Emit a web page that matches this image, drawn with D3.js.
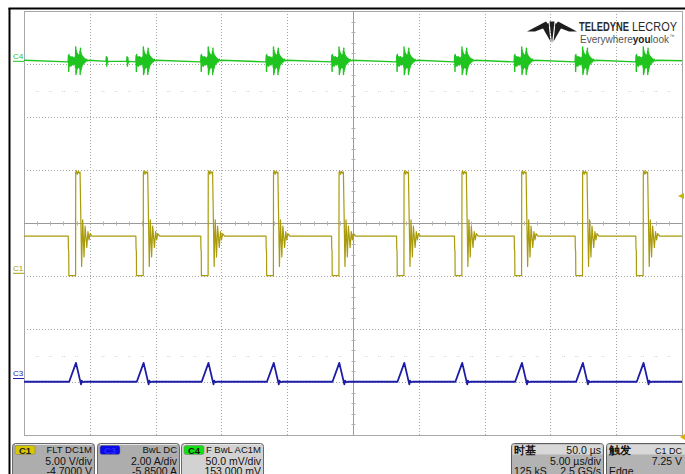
<!DOCTYPE html>
<html><head><meta charset="utf-8">
<script src="https://cdn.jsdelivr.net/npm/d3@7"></script>
<style>
html,body{margin:0;padding:0;background:#fff;}
svg{display:block;}
text{font-family:"Liberation Sans",Arial,sans-serif;}
</style></head><body>
<svg id="scope" width="685" height="474"></svg>
<script>
// Screen: 10 horizontal divisions of 5 µs, 8 vertical divisions
const timeDomain = [0, 50];
const divDomain = [-4, 4];
const timeGrid = [0, 5, 10, 15, 20, 25, 30, 35, 40, 45, 50];
const divGrid = [-4, -3, -2, -1, 0, 1, 2, 3, 4];

// Channel setup (scale per division and offset, in channel units)
const channelNames = ["C1", "C3", "C4"];
const unitsPerDiv = [5, 2, 50];      // V/div, A/div, mV/div
const channelOffset = [-4.7, -5.85, 153];
const traceColors = ["#a99b0c", "#1c1ca6", "#1fc41f"];

// Switching events: time of each C1 rising edge (µs)
const eventTimes = [3.93, 9.07, 14.00, 18.96, 23.94, 28.88, 33.28, 37.82, 42.45, 47.06];

// C1 (V): level between pulses, and the pulse around each event [dt µs, V]
const c1Base = 3.47;
const c1Pulse = [[-0.57,3.47],[-0.555,2.3],[-0.53,2.0],[-0.52,-0.27],[-0.01,-0.27],[0,9.45],
  [0.05,9.63],[0.12,9.3],[0.2,9.55],[0.28,9.4],[0.33,9.5],[0.45,0.6],[0.53,5.0],[0.63,1.5],
  [0.71,4.4],[0.84,2.4],[0.93,3.9],[1.01,3.1],[1.09,3.7],[1.24,3.47]];

// C3 (A): level between pulses, and the current pulse [dt µs, A]
const c3Base = -0.14;
const c3Pulse = [[-0.5,-0.14],[0.02,0.57],[0.4,-0.24],[0.46,-0.1],[0.55,-0.16],[0.65,-0.14]];

// C4 (mV): ringing burst around each event [dt µs, mV]
const c4Start = 0.5, c4End = 0;
const c4Burst = [[-0.62,-1],[-0.57,-0.5],[-0.55,5],[-0.53,-10],[-0.51,6],[-0.49,-5],[-0.46,4],
  [-0.43,-4],[-0.40,4],[-0.37,-5],[-0.34,3],[-0.31,-4],[-0.28,4],[-0.25,-3],[-0.22,3],[-0.19,-4],
  [-0.16,3],[-0.13,-3],[-0.10,2],[-0.07,-3],[-0.04,4],[-0.02,-6],[0.00,13],[0.02,-13],[0.04,10],
  [0.06,-11],[0.08,8],[0.10,-8],[0.12,7],[0.14,-7],[0.16,6],[0.18,-6],[0.20,5],[0.22,-6],
  [0.24,5],[0.26,-5],[0.28,6],[0.30,-7],[0.32,9],[0.34,-13],[0.36,12],[0.38,-10],[0.40,8],
  [0.42,-8],[0.44,6],[0.46,-6],[0.48,5],[0.51,-4],[0.54,4],[0.57,-3],[0.61,3],[0.65,-2],
  [0.70,2],[0.76,-1],[0.83,1.5],[0.90,0],[1.0,0.5]];
// small disturbances between events
const c4BlipTimes = [6.23, 7.80];
const c4Blip = [[0,-0.5],[0.03,4],[0.06,-5],[0.09,3],[0.12,-2],[0.16,-0.5]];

// Info panel texts
const chanRow1 = ["FLT DC1M", "BwL DC", "F  BwL AC1M"];
const chanRow2 = ["5.00 V/div", "2.00 A/div", "50.0 mV/div"];
const chanRow3 = ["-4.7000 V", "-5.8500 A", "153.000 mV"];
const badgeColors = ["#d6c800", "#0a0ae6", "#12e012"];
const badgeText = ["#222", "#2a2aff", "#111"];
const panelFill = ["#adadad", "#adadad", "#d2d2d2"];
const triggerLevel = 7.25;

const svg = d3.select("#scope");
const x = d3.scaleLinear().domain(timeDomain).range([24, 682]);
const yDiv = d3.scaleLinear().domain(divDomain).range([435, 11]);
const yCh = i => v => yDiv((v + channelOffset[i]) / unitsPerDiv[i]);

// outer frame
svg.append("rect").attr("x", 0).attr("y", 0).attr("width", 685).attr("height", 474).attr("fill", "#fff");
svg.append("line").attr("x1", 9.5).attr("x2", 9.5).attr("y1", 8).attr("y2", 474).attr("stroke", "#000").attr("stroke-width", 2);
svg.append("line").attr("x1", 8.5).attr("x2", 685).attr("y1", 8.5).attr("y2", 8.5).attr("stroke", "#000").attr("stroke-width", 2);

// graticule
const grid = svg.append("g");
grid.selectAll(".vg").data(timeGrid.slice(1, -1)).join("line")
  .attr("x1", d => Math.round(x(d)) + 0.5).attr("x2", d => Math.round(x(d)) + 0.5)
  .attr("y1", yDiv(4)).attr("y2", yDiv(-4))
  .attr("stroke", "#a4a4a4").attr("stroke-dasharray", "1,2");
grid.selectAll(".hg").data(divGrid.slice(1, -1)).join("line")
  .attr("y1", d => Math.round(yDiv(d)) + 0.5).attr("y2", d => Math.round(yDiv(d)) + 0.5)
  .attr("x1", x(0)).attr("x2", x(50))
  .attr("stroke", "#a4a4a4").attr("stroke-dasharray", "1,2");
grid.append("rect").attr("x", Math.round(x(0)) + 0.5).attr("y", Math.round(yDiv(4)) + 0.5)
  .attr("width", Math.round(x(50) - x(0))).attr("height", Math.round(yDiv(-4) - yDiv(4)))
  .attr("fill", "none").attr("stroke", "#a8a8a8");
// centre axes with minor ticks
const cx = Math.round(x(25)) + 0.5, cy = Math.round(yDiv(0)) + 0.5;
grid.append("line").attr("x1", x(0)).attr("x2", x(50)).attr("y1", cy).attr("y2", cy).attr("stroke", "#9a9a9a");
grid.append("line").attr("x1", cx).attr("x2", cx).attr("y1", yDiv(4)).attr("y2", yDiv(-4)).attr("stroke", "#9a9a9a");
const minorT = d3.range(1, 50).filter(t => t % 5 !== 0);
const minorD = d3.range(-19, 20).map(d => d / 5).filter(d => Math.abs(d * 5) % 5 !== 0);
grid.selectAll(".tx").data(minorT).join("line")
  .attr("x1", d => Math.round(x(d)) + 0.5).attr("x2", d => Math.round(x(d)) + 0.5)
  .attr("y1", cy - 2).attr("y2", cy + 2).attr("stroke", "#b4b4b4");
grid.selectAll(".ty").data(minorD).join("line")
  .attr("y1", d => Math.round(yDiv(d)) + 0.5).attr("y2", d => Math.round(yDiv(d)) + 0.5)
  .attr("x1", cx - 2).attr("x2", cx + 2).attr("stroke", "#b4b4b4");
// faint sub-division marks on two rows
[2.5, -2.5].forEach(row => {
  grid.selectAll(null).data(minorT).join("line")
    .attr("x1", d => x(d) - 1.5).attr("x2", d => x(d) + 1.5)
    .attr("y1", Math.round(yDiv(row)) + 0.5).attr("y2", Math.round(yDiv(row)) + 0.5)
    .attr("stroke", "#d2d2d2").attr("stroke-dasharray", "1,1");
});

// build traces
function buildTrace(pulse, startVal, endVal, extra) {
  let pts = [[timeDomain[0], startVal]];
  eventTimes.forEach(t => pulse.forEach(p => pts.push([t + p[0], p[1]])));
  if (extra) extra.times.forEach(t => extra.shape.forEach(p => pts.push([t + p[0], p[1]])));
  pts.push([timeDomain[1], endVal]);
  return pts.sort((a, b) => a[0] - b[0]);
}
const traces = [
  buildTrace(c1Pulse, c1Base, c1Base),
  buildTrace(c3Pulse, c3Base, c3Base),
  buildTrace(c4Burst, c4Start, c4End, {times: c4BlipTimes, shape: c4Blip})
];
svg.append("clipPath").attr("id", "plotClip").append("rect")
  .attr("x", x(0)).attr("y", yDiv(4)).attr("width", x(50) - x(0)).attr("height", yDiv(-4) - yDiv(4));
const widths = [1.2, 1.8, 1.4];
const plot = svg.append("g").attr("clip-path", "url(#plotClip)");
traces.forEach((pts, i) => {
  const line = d3.line().x(d => x(d[0])).y(d => yCh(i)(d[1]));
  plot.append("path").datum(pts).attr("d", line).attr("fill", "none")
    .attr("stroke", traceColors[i]).attr("stroke-width", widths[i]).attr("stroke-linejoin", "round");
});

// ground markers at the left edge
channelNames.forEach((name, i) => {
  const gy = yCh(i)(0);
  const g = svg.append("g").attr("fill", traceColors[i]).attr("stroke", traceColors[i]);
  g.append("text").attr("x", 13).attr("y", gy - 2).attr("font-size", 8).attr("stroke", "none").text(name);
  g.append("line").attr("x1", 13).attr("x2", 24).attr("y1", gy + 0.5).attr("y2", gy + 0.5).attr("stroke-width", 1);
});

// trigger level marker
const ty = yCh(0)(triggerLevel);
svg.append("path").attr("d", `M678,${ty} L684,${ty - 3} L684,${ty + 3} Z`).attr("fill", "#c8b400");
svg.append("path").attr("d", `M680,437 L685,434 L685,440 Z`).attr("fill", "#e0b000");

// logo mark: two wings and three downward blades
const logo = svg.append("g").attr("fill", "#1e1e1e");
[[[527,31.5],[546,21.5],[549.5,26],[535,31.5]],
 [[577,31.5],[558,21.5],[554.5,26],[569,31.5]],
 [[542.5,27.5],[548.5,23],[550.5,41.5]],
 [[549.5,21.5],[554.5,21.5],[552,43.5]],
 [[555.5,23],[561.5,27.5],[553.5,41.5]]].forEach(poly => {
  logo.append("path").attr("d", "M" + poly.map(p => p.join(",")).join("L") + "Z");
});
// brand words, squeezed horizontally to their printed widths
function fitWord(str, left, base, width, weight) {
  const g = svg.append("g");
  const t = g.append("text").attr("font-size", 12).attr("font-weight", weight).attr("fill", "#2a2a2a").text(str);
  const w = t.node().getComputedTextLength();
  g.attr("transform", `translate(${left},${base}) scale(${width / w},1)`);
}
fitWord("TELEDYNE", 579, 31, 50, "bold");
fitWord("LECROY", 632, 31, 45, "normal");
// tagline pieces placed one after another
let tx = 580;
[["Everywhere", "normal", "#555"], ["you", "bold", "#222"], ["look", "normal", "#555"]].forEach(([s, w, c]) => {
  const t = svg.append("text").attr("x", tx).attr("y", 42.5).attr("font-size", 10)
    .attr("font-weight", w).attr("fill", c).text(s);
  tx += t.node().getComputedTextLength();
});
svg.append("text").attr("x", tx + 0.5).attr("y", 38).attr("font-size", 5).attr("fill", "#555").text("™");

// channel panels
const panelX = [12, 97, 181];
panelX.forEach((px, i) => {
  const g = svg.append("g");
  g.append("rect").attr("x", px + 0.5).attr("y", 443.5).attr("width", 82).attr("height", 40).attr("rx", 3)
    .attr("fill", panelFill[i]).attr("stroke", "#6a6a6a");
  g.append("line").attr("x1", px + 3).attr("x2", px + 80).attr("y1", 444.5).attr("y2", 444.5).attr("stroke", "#e6e6e6");
  g.append("rect").attr("x", px + 3).attr("y", 445.5).attr("width", 20).attr("height", 9).attr("rx", 2)
    .attr("fill", badgeColors[i]).attr("stroke", "#777").attr("stroke-width", 0.5);
  g.append("text").attr("x", px + 13).attr("y", 453.5).attr("text-anchor", "middle").attr("font-size", 9.5)
    .attr("font-weight", "bold").attr("fill", badgeText[i]).text(channelNames[i]);
  g.append("text").attr("x", px + 80).attr("y", 453).attr("text-anchor", "end").attr("font-size", 9.5)
    .attr("fill", "#111").text(chanRow1[i]);
  g.append("text").attr("x", px + 80).attr("y", 464.5).attr("text-anchor", "end").attr("font-size", 10.5)
    .attr("fill", "#111").text(chanRow2[i]);
  g.append("text").attr("x", px + 80).attr("y", 475).attr("text-anchor", "end").attr("font-size", 10.5)
    .attr("fill", "#111").text(chanRow3[i]);
});

// timebase and trigger panels
const infoPanels = [
  {x: 511, w: 92, title: "时基", r1: "50.0 µs", r2: "5.00 µs/div", l3: "125 kS", r3: "2.5 GS/s"},
  {x: 606, w: 84, title: "触发", r1: "C1 DC", r2: "7.25 V", l3: "Edge", r3: ""}
];
infoPanels.forEach(p => {
  const g = svg.append("g");
  const right = p.x + (p.x > 600 ? 76 : 90);
  g.append("rect").attr("x", p.x + 0.5).attr("y", 443.5).attr("width", p.w).attr("height", 40).attr("rx", 3)
    .attr("fill", "#b3b3b3").attr("stroke", "#5e5e5e");
  g.append("rect").attr("x", p.x + 1.5).attr("y", 444.5).attr("width", p.w - 2).attr("height", 10)
    .attr("fill", "#d8d8d8");
  g.append("text").attr("x", p.x + 3).attr("y", 453.5).attr("font-size", 10.5).attr("font-weight", "bold")
    .attr("font-family", "'Noto Sans CJK SC',sans-serif").attr("fill", "#111").text(p.title);
  g.append("text").attr("x", right).attr("y", 453.5).attr("text-anchor", "end")
    .attr("font-size", p.x > 600 ? 9 : 10.5).attr("fill", "#111").text(p.r1);
  g.append("text").attr("x", right).attr("y", 464.5).attr("text-anchor", "end")
    .attr("font-size", 10.5).attr("fill", "#111").text(p.r2);
  g.append("text").attr("x", p.x + 3).attr("y", 475).attr("font-size", 10.5).attr("fill", "#111").text(p.l3);
  if (p.r3) g.append("text").attr("x", right).attr("y", 475).attr("text-anchor", "end")
    .attr("font-size", 10.5).attr("fill", "#111").text(p.r3);
});
</script>
</body></html>
